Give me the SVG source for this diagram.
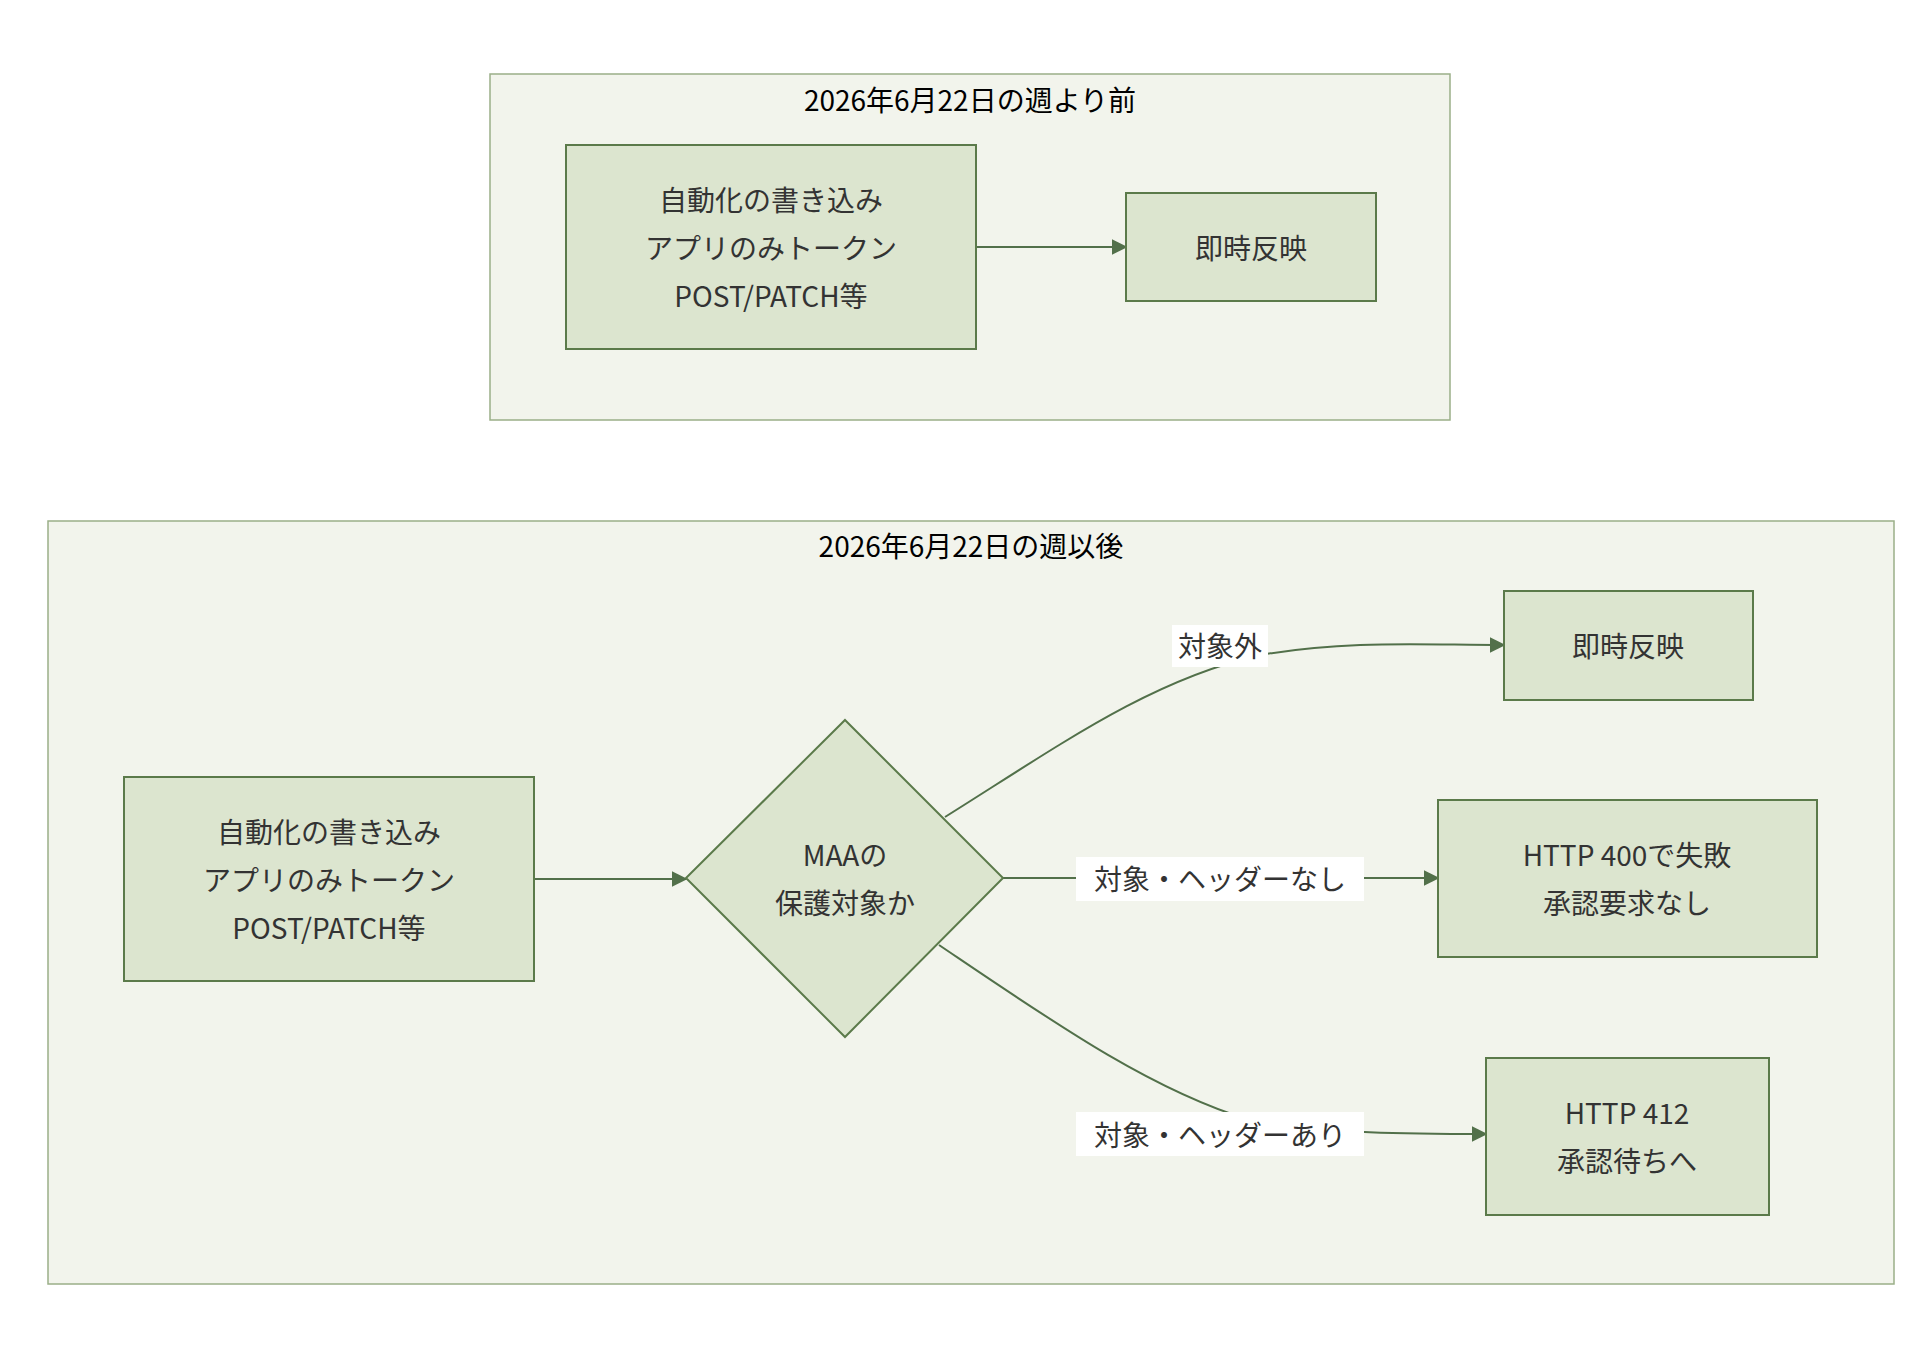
<svg xmlns="http://www.w3.org/2000/svg" width="1932" height="1356" viewBox="0 0 1932 1356">
<style>
text{font-family:"Noto Sans CJK JP","Noto Sans",sans-serif;font-size:28px;fill:#333;text-anchor:middle;dominant-baseline:central}
.cl{fill:#f2f4ec;stroke:#9aaf88;stroke-width:1.5}
.ct{fill:#000}
.n{fill:#dce5cf;stroke:#5b7a4a;stroke-width:2}
.e{fill:none;stroke:#52704a;stroke-width:2;marker-end:url(#a)}
.lb{fill:#fff}
</style>
<defs><marker id="a" viewBox="0 0 10 10" refX="9" refY="5" markerWidth="8" markerHeight="8" orient="auto"><path d="M0,0L10,5L0,10z" fill="#52704a"/></marker></defs>
<rect width="1932" height="1356" fill="#fff"/>
<g id="cluster1"><rect class="cl" x="490" y="74" width="960" height="346"/><text class="ct" x="970" y="99">2026年6月22日の週より前</text></g>
<g id="cluster2"><rect class="cl" x="48" y="521" width="1846" height="763"/><text class="ct" x="971" y="545">2026年6月22日の週以後</text></g>
<g id="edges">
<path class="e" d="M976,247H1126"/>
<path class="e" d="M534,879H686"/>
<path class="e" d="M945,817C1060,745 1150,680 1260,655C1350,640 1420,645 1504,645"/>
<path class="e" d="M1003,878H1438"/>
<path class="e" d="M939,945C1050,1020 1150,1090 1250,1120C1320,1134 1420,1134 1486,1134"/>
<rect class="lb" x="1172" y="625" width="96" height="42"/><text x="1220" y="645">対象外</text>
<rect class="lb" x="1076" y="857" width="288" height="44"/><text x="1220" y="878">対象・ヘッダーなし</text>
<rect class="lb" x="1076" y="1112" width="288" height="44"/><text x="1220" y="1134">対象・ヘッダーあり</text>
</g>
<g id="A1"><rect class="n" x="566" y="145" width="410" height="204"/><text x="771" y="199">自動化の書き込み</text><text x="771" y="247">アプリのみトークン</text><text x="771" y="295">POST/PATCH等</text></g>
<g id="B1"><rect class="n" x="1126" y="193" width="250" height="108"/><text x="1251" y="247">即時反映</text></g>
<g id="A2"><rect class="n" x="124" y="777" width="410" height="204"/><text x="329" y="831">自動化の書き込み</text><text x="329" y="879">アプリのみトークン</text><text x="329" y="927">POST/PATCH等</text></g>
<g id="D"><path class="n" d="M845,720L1003,878L845,1037L686,878z"/><text x="845" y="854">MAAの</text><text x="845" y="902">保護対象か</text></g>
<g id="R1"><rect class="n" x="1504" y="591" width="249" height="109"/><text x="1628" y="645">即時反映</text></g>
<g id="R2"><rect class="n" x="1438" y="800" width="379" height="157"/><text x="1627" y="854">HTTP 400で失敗</text><text x="1627" y="902">承認要求なし</text></g>
<g id="R3"><rect class="n" x="1486" y="1058" width="283" height="157"/><text x="1627" y="1112">HTTP 412</text><text x="1627" y="1160">承認待ちへ</text></g>
</svg>
